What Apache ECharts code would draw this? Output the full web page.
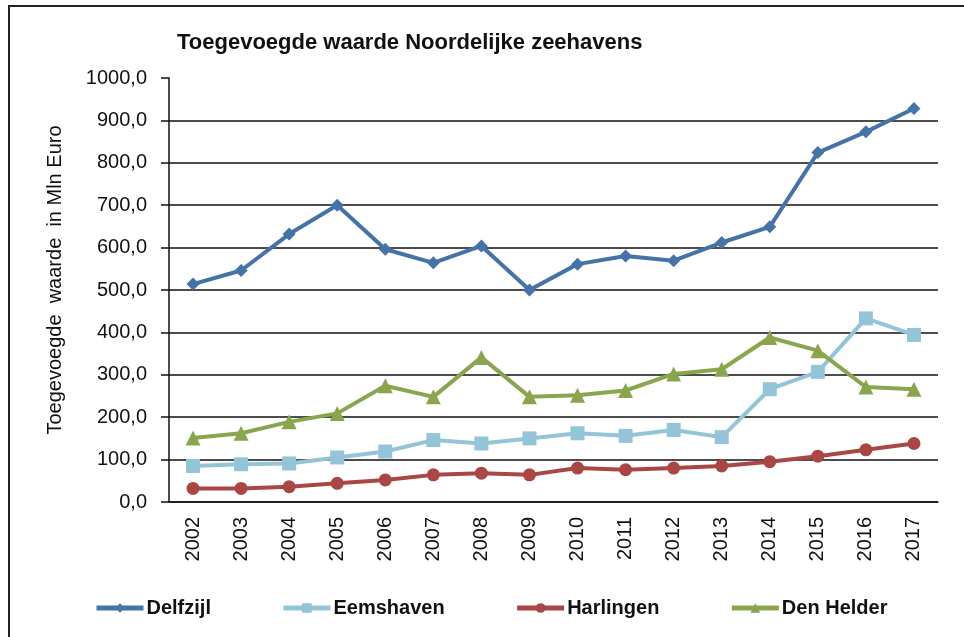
<!DOCTYPE html>
<html>
<head>
<meta charset="utf-8">
<script src="https://cdn.jsdelivr.net/npm/echarts@6/dist/echarts.min.js"></script>
<style>
  html, body { margin: 0; padding: 0; background: #fff; }
  #frame {
    position: absolute; left: 8px; top: 5px; width: 980px; height: 660px;
    border-left: 2px solid #222; border-top: 2px solid #222;
  }
  #chart { position: absolute; left: 0; top: 0; width: 964px; height: 637px; }
</style>
</head>
<body>
<div id="frame"></div>
<div id="chart"></div>
<script>
  const years = ['2002', '2003', '2004', '2005', '2006', '2007', '2008', '2009',
    '2010', '2011', '2012', '2013', '2014', '2015', '2016', '2017'];
  const delfzijl = [514, 546, 632, 700, 596, 564, 604, 500, 561, 580, 569, 612, 649, 824, 873, 928];
  const eemshaven = [85, 89, 91, 105, 119, 146, 138, 150, 162, 156, 170, 153, 266, 307, 433, 394];
  const harlingen = [32, 32, 36, 44, 52, 64, 68, 64, 80, 76, 80, 85, 95, 108, 123, 138];
  const denHelder = [151, 162, 189, 209, 274, 248, 341, 248, 252, 263, 302, 313, 388, 357, 271, 266];

  const font = 'Liberation Sans, Arial, sans-serif';
  // gridlines for 0..900 in black, none at 1000
  const gridColors = [];
  for (let i = 0; i < 10; i++) gridColors.push('#111');
  gridColors.push('rgba(0,0,0,0)');

  function line(name, data, color, symbol, size) {
    return {
      name: name,
      type: 'line',
      data: data,
      symbol: symbol,
      symbolSize: size,
      color: color,
      lineStyle: { width: 4, color: color },
      itemStyle: { color: color },
      animation: false,
    };
  }

  const chart = echarts.init(document.getElementById('chart'));
  chart.setOption({
    backgroundColor: 'transparent',
    textStyle: { fontFamily: font },
    title: {
      text: 'Toegevoegde waarde Noordelijke zeehavens',
      left: 172,
      top: 27,
      textStyle: { fontSize: 22, fontWeight: 'bold', color: '#111', fontFamily: font },
    },
    grid: { left: 169, right: 26, top: 78, bottom: 135 },
    xAxis: {
      type: 'category',
      data: years,
      boundaryGap: true,
      axisLine: { lineStyle: { color: '#111', width: 1.5 } },
      axisTick: { length: 6, lineStyle: { color: '#111', width: 1.5 } },
      axisLabel: { rotate: 90, margin: 15, fontSize: 20, color: '#111', fontFamily: font },
    },
    yAxis: {
      type: 'value',
      min: 0,
      max: 1000,
      interval: 100,
      name: 'Toegevoegde  waarde  in Mln Euro',
      nameLocation: 'middle',
      nameRotate: 90,
      nameGap: 104,
      nameTextStyle: { fontSize: 20, color: '#111', fontFamily: font, padding: [0, 0, 0, 20] },
      axisLine: { show: true, lineStyle: { color: '#111', width: 1.5 } },
      axisTick: { show: true, length: 8, lineStyle: { color: '#111', width: 1.5 } },
      axisLabel: {
        margin: 22,
        fontSize: 20,
        color: '#111',
        fontFamily: font,
        formatter: v => v.toFixed(1).replace('.', ','),
      },
      splitLine: { show: true, lineStyle: { color: gridColors, width: 1.5 } },
    },
    legend: {
      bottom: 14,
      left: 89,
      itemWidth: 47,
      itemHeight: 12,
      itemGap: 70,
      lineStyle: { width: 5 },
      textStyle: { fontSize: 20, fontWeight: 'bold', color: '#111', fontFamily: font, padding: [0, 0, 0, -2] },
    },
    series: [
      line('Delfzijl', delfzijl, '#4572A7', 'diamond', 13),
      line('Eemshaven', eemshaven, '#93C4D8', 'rect', 14),
      line('Harlingen', harlingen, '#AA4643', 'circle', 13),
      line('Den Helder', denHelder, '#89A54E', 'triangle', 15),
    ],
  });
</script>
</body>
</html>
